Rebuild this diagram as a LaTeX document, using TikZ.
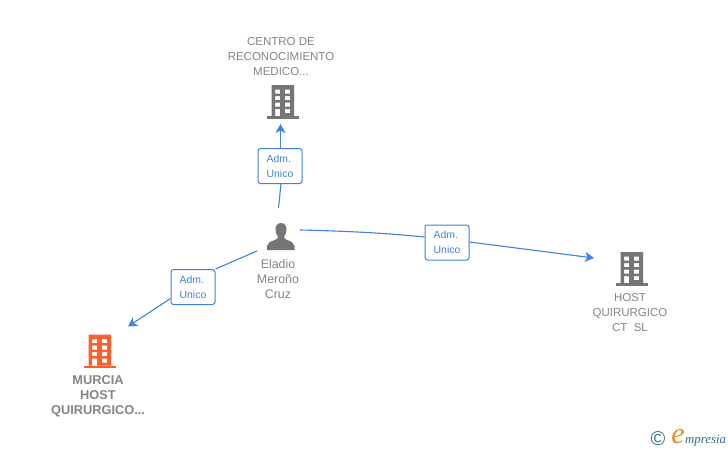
\documentclass[tikz,border=0pt]{standalone}
\usepackage{fontspec}
\setmainfont{Liberation Sans}
\newfontfamily\serifit[Scale=1]{Liberation Serif}
\usetikzlibrary{arrows.meta}
\definecolor{linkblue}{HTML}{3F82E0}
\definecolor{icongray}{HTML}{757575}
\definecolor{labelgray}{HTML}{858585}
\definecolor{firmorange}{HTML}{FF5F2E}
\definecolor{logoteal}{HTML}{2F6F86}
\definecolor{logoorange}{HTML}{F08A24}
\newcommand{\bldgicon}[3]{%
  \begin{scope}[shift={(#1,#2)}]
    \fill[#3,even odd rule]
      (4.5,0) rectangle (27,31)
      (8,4.5) rectangle (13,8.5) (17.8,4.5) rectangle (23,8.5)
      (8,11) rectangle (13,15) (17.8,11) rectangle (23,15)
      (8,17.5) rectangle (13,21.5) (17.8,17.5) rectangle (23,21.5)
      (8,24) rectangle (13,31) (17.8,24) rectangle (23,28);
    \fill[#3] (0,31) rectangle (32,33.5);
  \end{scope}}
\tikzset{
  x=1pt,y=-1pt,
  entity/.style={align=center,text=labelgray,font=\fontsize{11.5}{15}\selectfont,inner sep=0pt},
  entitybold/.style={entity,font=\fontsize{12.8}{15}\selectfont\bfseries},
  personlabel/.style={entity,font=\fontsize{12.4}{15}\selectfont},
  rolebox/.style={draw=linkblue,fill=white,line width=1pt,rounded corners=2.5pt,minimum width=44pt,minimum height=35pt,inner sep=0pt,align=left,text=linkblue,font=\fontsize{10.4}{15}\selectfont},
  link/.style={draw=linkblue,line width=1.1pt},
  linkarrow/.style={link,-{Stealth[length=9pt,width=10pt,inset=2.5pt]}}
}
\begin{document}
\begin{tikzpicture}
\useasboundingbox (0,0) rectangle (728,450);
\fill[white] (0,0) rectangle (728,450);

\bldgicon{267}{85}{icongray}
\bldgicon{616}{252}{icongray}
\bldgicon{84}{334.5}{firmorange}

% person icon
\fill[icongray] (281,223) .. controls (277.5,223) and (275.3,226) .. (275.5,229.5)
  .. controls (275.6,232.5) and (276.5,235) .. (278,236.5)
  .. controls (278,238) and (277.5,239) .. (275,240)
  .. controls (270,241.5) and (267.5,243) .. (267,246) -- (267,250) -- (294.5,250) -- (294.5,246)
  .. controls (294,243) and (291.5,241.5) .. (287,240)
  .. controls (284.5,239) and (284,238) .. (284,236.5)
  .. controls (285.5,235) and (286.4,232.5) .. (286.5,229.5)
  .. controls (286.7,226) and (284.5,223) .. (281,223) -- cycle;

\node[entity] (lblcentro) at (281,56.5) {CENTRO DE\\RECONOCIMIENTO\\MEDICO...};
\node[entity] (lblhost) at (630,313) {HOST\\QUIRURGICO\\CT\ \ SL};
\node[entitybold] (lblmurcia) at (98,396) {MURCIA\\HOST\\QUIRURGICO...};
\node[personlabel] (lblperson) at (278,279) {Eladio\\Meroño\\Cruz};

\node[rolebox] (boxtop) at (280,166) {Adm.\\Unico};
\node[rolebox] (boxleft) at (193,287) {Adm.\\Unico};
\node[rolebox] (boxright) at (447,242.5) {Adm.\\Unico};

\coordinate (persontop) at (278.5,208);
\coordinate (personleft) at (257,251);
\coordinate (personright) at (300,230);
\coordinate (endtop) at (280.5,124);
\coordinate (endleft) at (128,326.5);
\coordinate (endright) at (594,258);

\draw[link] (persontop) -- (boxtop.south -| 281,183);
\draw[linkarrow] (boxtop.north -| 280.5,148) -- (endtop);
\draw[link] (personleft) -- (boxleft.north east);
\draw[linkarrow] (boxleft.west |- 171,298.5) -- (endleft);
\draw[link] (personright) .. controls (345,231) and (385,233) .. (boxright.west |- 425,237);
\draw[linkarrow] (boxright.east |- 469,242) -- (endright);

% logo
\node[inner sep=0pt,text=logoteal,font=\fontsize{20}{20}\selectfont] (logoc) at (658,439) {©};
\node[inner sep=0pt,text=logoorange,font=\serifit\itshape\fontsize{30}{30}\selectfont] (logoe) at (678,437) {e};
\node[inner sep=0pt,anchor=base west,text=logoteal,font=\serifit\itshape\fontsize{12.8}{14}\selectfont] (logotext) at (685,443) {mpresia};
\end{tikzpicture}
\end{document}
